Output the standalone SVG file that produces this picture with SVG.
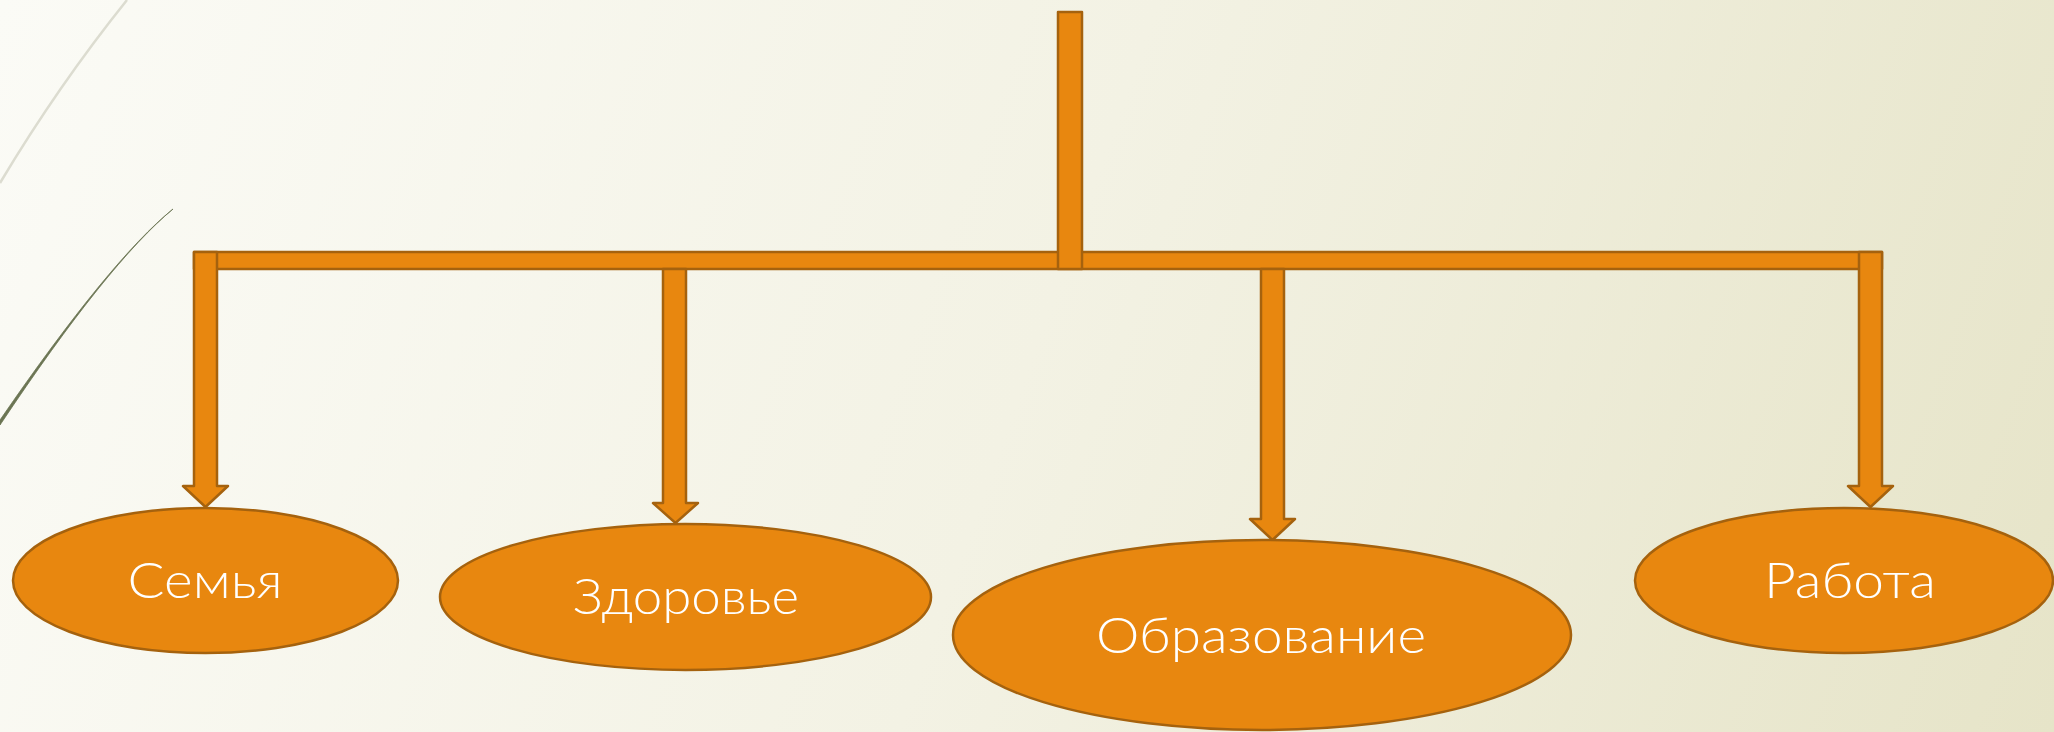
<svg xmlns="http://www.w3.org/2000/svg" width="2054" height="732" viewBox="0 0 2054 732">
<defs>
<linearGradient id="bg" gradientUnits="userSpaceOnUse" x1="0" y1="0" x2="2054" y2="732">
<stop offset="0" stop-color="#FBFBF6"/>
<stop offset="0.5" stop-color="#F3F2E4"/>
<stop offset="1" stop-color="#E6E4C8"/>
</linearGradient>
</defs>
<style>
.shape{fill:#E8870F;stroke:#A5620E;stroke-width:2.5;stroke-linejoin:round}
.lbl{fill:#FFFFFF;font-family:"Lato","Liberation Sans",sans-serif;font-weight:300;font-size:49px;text-anchor:middle}
</style>
<rect x="0" y="0" width="2054" height="732" fill="url(#bg)"/>
<path d="M127,0 Q58,86 0,183" fill="none" stroke="#DCDCD0" stroke-width="2.5"/>
<path d="M173,209 Q110,260 0,420 L0,425 Q108,263 173,209 Z" fill="#6B7553" stroke="#6B7553" stroke-width="0.8"/>
<g id="connectors">
<rect class="shape" x="194" y="252" width="1688" height="17"/>
<path class="shape" d="M194,252 H217 V486 H228 L205.5,507 L183,486 H194 Z"/>
<path class="shape" d="M663,269 H686 V503 H698 L675.5,523 L653,503 H663 Z"/>
<path class="shape" d="M1261,269 H1284 V519 H1295 L1272.5,540 L1250,519 H1261 Z"/>
<path class="shape" d="M1859,252 H1882 V486 H1893 L1870.5,507 L1848,486 H1859 Z"/>
<rect class="shape" x="1058" y="12" width="24" height="257"/>
</g>
<g id="node-semya">
<ellipse class="shape" cx="205.5" cy="580.5" rx="192.5" ry="72.5"/>
<text class="lbl" x="205" y="598" textLength="155" lengthAdjust="spacingAndGlyphs">Семья</text>
</g>
<g id="node-zdorovye">
<ellipse class="shape" cx="685.5" cy="597" rx="245.5" ry="73"/>
<text class="lbl" x="686" y="614" textLength="226" lengthAdjust="spacingAndGlyphs">Здоровье</text>
</g>
<g id="node-obrazovanie">
<ellipse class="shape" cx="1262" cy="635" rx="309" ry="95"/>
<text class="lbl" x="1261" y="653" textLength="330" lengthAdjust="spacingAndGlyphs">Образование</text>
</g>
<g id="node-rabota">
<ellipse class="shape" cx="1844" cy="580.5" rx="209" ry="72.5"/>
<text class="lbl" x="1850" y="598" textLength="172" lengthAdjust="spacingAndGlyphs">Работа</text>
</g>
</svg>
